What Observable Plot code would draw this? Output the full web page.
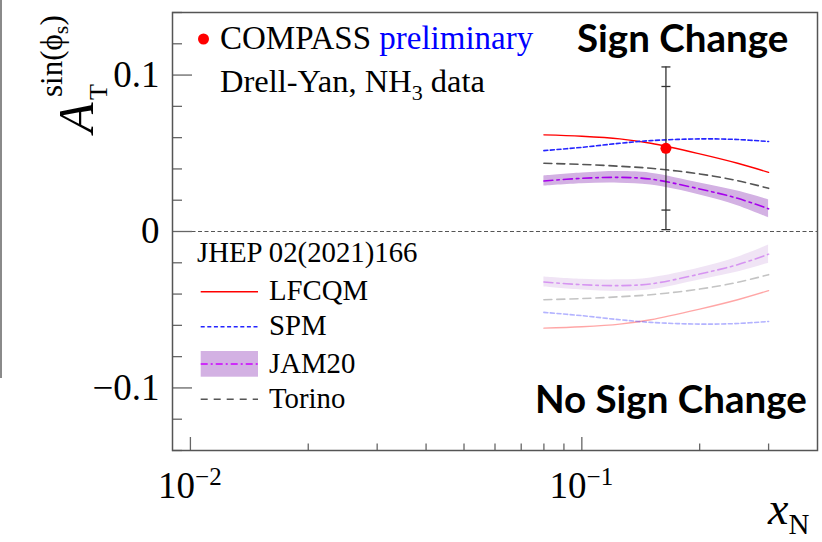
<!DOCTYPE html>
<html>
<head>
<meta charset="utf-8">
<script src="https://cdn.jsdelivr.net/npm/d3@7"></script>
<script src="https://cdn.jsdelivr.net/npm/@observablehq/plot@0.6"></script>
<style>
  html, body { margin: 0; padding: 0; background: #fff; }
  #chart { position: relative; width: 822px; height: 542px; overflow: hidden; }
  #edge { position: absolute; left: 0; top: 0; width: 2px; height: 378px; background: #8a8a8a; }
</style>
</head>
<body>
<div id="chart"><div id="edge"></div></div>
<script>
// Model predictions for the Sivers asymmetry A_T^{sin(phi_S)} vs x_N
const xN       = [0.08, 0.1, 0.125, 0.15, 0.2, 0.25, 0.3];
const lfcqm    = [0.0618, 0.0609, 0.0592, 0.0564, 0.0496, 0.0436, 0.0378];
const spm      = [0.0517, 0.0538, 0.0564, 0.0581, 0.0592, 0.0588, 0.0575];
const torino   = [0.0436, 0.0429, 0.0417, 0.0404, 0.0368, 0.0325, 0.0276];
const jam20    = [0.0323, 0.0340, 0.0346, 0.0335, 0.0272, 0.0212, 0.0145];
const jam20Err = [0.0032, 0.0034, 0.0037, 0.0038, 0.0038, 0.0047, 0.0058];

// COMPASS preliminary point (stat and total uncertainties)
const compassX    = [0.164];
const compassA    = [0.0532];
const compassStat = [0.0395];
const compassTot  = [0.052];

// Axis ticks
const yMajor = [-0.1, 0, 0.1];
const yMinor = [-0.14, -0.12, -0.08, -0.06, -0.04, -0.02, 0.02, 0.04, 0.06, 0.08, 0.12, 0.14];
const xMajor = [0.01, 0.1];
const xMinor = [0.02, 0.03, 0.04, 0.05, 0.06, 0.07, 0.08, 0.09, 0.2, 0.3];
const xLabels = [{v: 0.01, exp: "\u22122"}, {v: 0.1, exp: "\u22121"}];

// Two scenarios: with the predicted sign change (+1) and without it (-1)
const scenarios = [{sign: 1, opacity: 1}, {sign: -1, opacity: 0.35}];

const models = [
  {name: "LFCQM",  values: lfcqm,  stroke: "#ff0000", dash: null,        width: 1.4},
  {name: "SPM",    values: spm,    stroke: "#2424ff", dash: "4,2.6",     width: 1.6},
  {name: "Torino", values: torino, stroke: "#555555", dash: "8,5",       width: 1.6},
  {name: "JAM20",  values: jam20,  stroke: "#a600ec", dash: "9,4,2.5,4", width: 1.6}
];

const serif = "'Liberation Serif', 'Times New Roman', serif";

const W = 822, H = 542, mL = 172, mR = 5, mT = 12, mB = 92;
const frameW = W - mL - mR, frameH = H - mT - mB;

const marks = [];

for (const s of scenarios) {
  const band = xN.map((x, i) => ({
    x,
    lo: s.sign * (jam20[i] - jam20Err[i]),
    hi: s.sign * (jam20[i] + jam20Err[i])
  }));
  marks.push(Plot.areaY(band, {x: "x", y1: "lo", y2: "hi", fill: "#d3b1e3", fillOpacity: s.opacity, curve: "catmull-rom"}));
  for (const m of models) {
    const pts = xN.map((x, i) => ({x, y: s.sign * m.values[i]}));
    marks.push(Plot.line(pts, {
      x: "x", y: "y", stroke: m.stroke, strokeWidth: m.width,
      strokeDasharray: m.dash, strokeOpacity: s.opacity, curve: "catmull-rom"
    }));
  }
}

// zero line
marks.push(Plot.ruleY([0], {stroke: "#555", strokeWidth: 1.2, strokeDasharray: "4,2.5"}));

// COMPASS data point with error bars
const pts = compassX.map((x, i) => ({x, y: compassA[i], s: compassStat[i], t: compassTot[i]}));
const cap = {draw(ctx) { ctx.moveTo(-4.5, 0); ctx.lineTo(4.5, 0); }};
marks.push(Plot.ruleX(pts, {x: "x", y1: d => d.y - d.t, y2: d => d.y + d.t, stroke: "#333", strokeWidth: 1.3}));
for (const key of ["s", "t"]) {
  marks.push(Plot.dot(pts, {x: "x", y: d => d.y + d[key], symbol: cap, stroke: "#333", strokeWidth: 1.3, fill: "none", r: 5}));
  marks.push(Plot.dot(pts, {x: "x", y: d => d.y - d[key], symbol: cap, stroke: "#333", strokeWidth: 1.3, fill: "none", r: 5}));
}
marks.push(Plot.dot(pts, {x: "x", y: "y", r: 5.5, fill: "#ff0000", stroke: "none"}));

// inward ticks (ROOT style)
marks.push(Plot.tickY(yMajor, {y: d => d, insetRight: frameW - 20, stroke: "#666", strokeWidth: 1.3}));
marks.push(Plot.tickY(yMinor, {y: d => d, insetRight: frameW - 10, stroke: "#666", strokeWidth: 1.3}));
marks.push(Plot.tickX(xMajor, {x: d => d, insetTop: frameH - 13, stroke: "#666", strokeWidth: 1.3}));
marks.push(Plot.tickX(xMinor, {x: d => d, insetTop: frameH - 6.5, stroke: "#666", strokeWidth: 1.3}));

// y tick labels
marks.push(Plot.axisY(yMajor, {
  tickSize: 0, tickPadding: 13, fontSize: 37, fill: "#000", label: null,
  tickFormat: d => String(d).replace("-", "\u2212")
}));

marks.push(Plot.frame({stroke: "#555", strokeWidth: 1.5}));

const plot = Plot.plot({
  width: W, height: H,
  marginLeft: mL, marginRight: mR, marginTop: mT, marginBottom: mB,
  x: {type: "log", domain: [0.009, 0.4], axis: null},
  y: {domain: [-0.14, 0.14], axis: null},
  style: {fontFamily: serif, background: "transparent", overflow: "visible"},
  marks
});

document.getElementById("chart").appendChild(plot);

const svg = d3.select(plot);
const xs = plot.scale("x");

// x tick labels 10^-2, 10^-1
const xl = svg.append("g").attr("font-family", serif).attr("font-size", 37).attr("fill", "#000");
for (const l of xLabels) {
  const t = xl.append("text").attr("x", xs.apply(l.v)).attr("y", 498).attr("text-anchor", "middle");
  t.append("tspan").text("10");
  t.append("tspan").attr("dy", -13).attr("font-size", 25).text(l.exp);
}

// x axis title
const xt = svg.append("text").attr("x", 768).attr("y", 524).attr("text-anchor", "start")
  .attr("font-family", serif).attr("fill", "#000");
xt.append("tspan").attr("font-style", "italic").attr("font-size", 46).text("x");
xt.append("tspan").attr("dy", 10).attr("font-size", 29).text("N");

// y axis title A_T^{sin(phi_S)}
const yt = svg.append("text").attr("transform", "translate(93,133) rotate(-90)").attr("text-anchor", "start")
  .attr("font-family", serif).attr("fill", "#000");
yt.append("tspan").attr("x", 0).attr("y", 0).attr("font-style", "italic").attr("font-size", 50).text("A");
yt.append("tspan").attr("x", 33).attr("y", 14).attr("font-size", 26).text("T");
yt.append("tspan").attr("x", 36).attr("y", -31).attr("font-size", 31).text("sin(\u03D5");
yt.append("tspan").attr("dy", 6).attr("font-size", 22).text("s");
yt.append("tspan").attr("dy", -6).attr("font-size", 31).text(")");

// Legend: data
const lg = svg.append("g").attr("font-family", serif).attr("fill", "#000").attr("text-anchor", "start");
lg.append("circle").attr("cx", 203.5).attr("cy", 39).attr("r", 5.5).attr("fill", "#ff0000");
const l1 = lg.append("text").attr("x", 220).attr("y", 48.5).attr("font-size", 33);
l1.append("tspan").text("COMPASS ");
l1.append("tspan").attr("fill", "#0000ff").text("preliminary");
const l2 = lg.append("text").attr("x", 220).attr("y", 91.5).attr("font-size", 32.5);
l2.append("tspan").text("Drell-Yan, NH");
l2.append("tspan").attr("dy", 8).attr("font-size", 22).text("3");
l2.append("tspan").attr("dy", -8).text(" data");

// Legend: models
const lm = svg.append("g").attr("font-family", serif).attr("fill", "#000").attr("font-size", 28.8)
  .attr("text-anchor", "start");
lm.append("text").attr("x", 197).attr("y", 262).text("JHEP 02(2021)166");
const rows = [
  {m: models[0], y: 291.7},
  {m: models[1], y: 326.7},
  {m: models[3], y: 364},
  {m: models[2], y: 399.3}
];
for (const r of rows) {
  if (r.m.name === "JAM20") {
    lm.append("rect").attr("x", 200.7).attr("y", r.y - 13).attr("width", 57.3).attr("height", 25.7).attr("fill", "#d3b1e3");
  }
  lm.append("line").attr("x1", 200.7).attr("x2", 258).attr("y1", r.y).attr("y2", r.y)
    .attr("stroke", r.m.name === "JAM20" ? "#cc00ff" : r.m.stroke).attr("stroke-width", 1.4)
    .attr("stroke-dasharray", r.m.name === "Torino" ? "7,6" : r.m.name === "JAM20" ? "7,3,2,3" : r.m.dash);
  lm.append("text").attr("x", 269).attr("y", r.y + 8.5).text(r.m.name);
}

// Scenario annotations
const ann = svg.append("g").attr("font-family", "Lato, 'Open Sans', sans-serif").attr("font-weight", 700)
  .attr("font-size", 38.5).attr("fill", "#000").attr("text-anchor", "start");
ann.append("text").attr("x", 577).attr("y", 51.7).text("Sign Change");
ann.append("text").attr("x", 535).attr("y", 413.3).text("No Sign Change");
</script>
</body>
</html>
